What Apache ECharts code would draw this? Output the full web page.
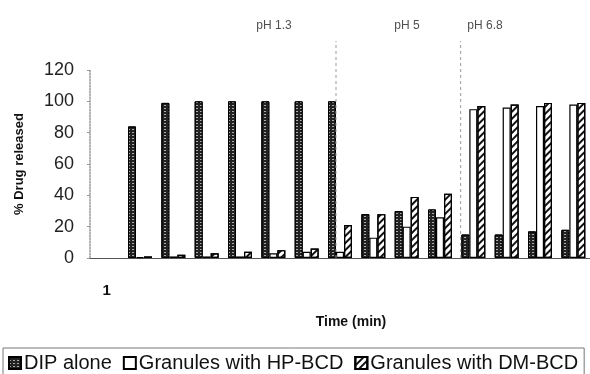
<!DOCTYPE html>
<html>
<head>
<meta charset="utf-8">
<script src="https://cdn.jsdelivr.net/npm/echarts@6/dist/echarts.min.js"></script>
<style>
html,body{margin:0;padding:0;background:#fff;}
#chart{width:590px;height:374px;}
</style>
</head>
<body>
<div id="chart"></div>
<script>
// ---- data ----
var categories = ['1','','','','','','','','','','','','','',''];
var dipAlone   = [null, 84, 99, 100, 100, 100, 100, 100, 28, 30, 31, 15, 15, 17, 18];
var hpBCD      = [null, 0.5, 1, 1, 1, 3, 4, 4, 13, 20, 26, 95, 96, 97, 98];
var dmBCD      = [null, 1, 2, 3, 4, 5, 6, 21, 28, 39, 41, 97, 98, 99, 99];
var seriesNames = ['DIP alone', 'Granules with HP-BCD', 'Granules with DM-BCD'];
var yTicks = [0, 20, 40, 60, 80, 100, 120];
var phLabels = ['pH 1.3', 'pH 5', 'pH 6.8'];
var phLabelPos = [5.52, 9.51, 11.85];   // in category units
var phBoundaries = [7.38, 11.12];       // in category units

var FONT = '"Liberation Sans", Arial, sans-serif';
var chart = echarts.init(document.getElementById('chart'), null, {renderer: 'canvas'});

var barBase = {
  type: 'bar', xAxisIndex: 0, yAxisIndex: 0,
  barWidth: 8, barGap: '0%', silent: true
};

var series = [
  Object.assign({}, barBase, {
    name: seriesNames[0], data: dipAlone,
    itemStyle: {
      color: '#222', borderColor: '#000', borderWidth: 1,
      decal: {symbol: 'rect', symbolSize: 1, color: 'rgba(230,230,230,0.7)',
              dashArrayX: [2, 2], dashArrayY: [1, 2]}
    }
  }),
  Object.assign({}, barBase, {
    name: seriesNames[1], data: hpBCD,
    itemStyle: {color: '#ffffff', borderColor: '#000', borderWidth: 1.2}
  }),
  Object.assign({}, barBase, {
    name: seriesNames[2], data: dmBCD,
    itemStyle: {
      color: '#ffffff', borderColor: '#000', borderWidth: 1.2,
      decal: {symbol: 'rect', symbolSize: 1, color: '#111',
              dashArrayX: [1, 0], dashArrayY: [1.5, 3], rotation: -Math.PI / 4}
    }
  })
];

phBoundaries.forEach(function (b) {
  series.push({
    type: 'line', xAxisIndex: 1, yAxisIndex: 1, silent: true,
    symbol: 'none', data: [[b, 0], [b, 1]],
    lineStyle: {color: '#999', width: 1, type: [3, 3]}
  });
});

series.push({
  type: 'scatter', xAxisIndex: 1, yAxisIndex: 1, silent: true,
  symbolSize: 0,
  data: phLabels.map(function (t, i) { return {value: [phLabelPos[i], 1], name: t}; }),
  label: {
    show: true, position: 'top', distance: 9,
    formatter: function (p) { return p.name; },
    fontSize: 12, color: '#222', fontFamily: FONT
  }
});

var option = {
  animation: false,
  backgroundColor: '#ffffff',
  grid: [
    {left: 90, right: 0, top: 70, bottom: 116},
    {left: 90, right: 0, top: 41, bottom: 116}
  ],
  legend: {
    data: seriesNames,
    left: 3, top: 348,
    icon: 'rect', itemWidth: 12, itemHeight: 12, itemGap: 11,
    padding: [5, 6, 6, 5],
    borderColor: '#777', borderWidth: 1,
    textStyle: {fontSize: 20, color: '#111', fontFamily: FONT, padding: [0, 0, 0, -2]},
    selectedMode: false
  },
  xAxis: [
    {
      type: 'category', gridIndex: 0, data: categories,
      axisLine: {lineStyle: {color: '#555', width: 1}},
      axisTick: {show: false},
      axisLabel: {interval: 0, fontSize: 15, fontWeight: 'bold', color: '#111',
                  margin: 25, fontFamily: FONT},
      name: 'Time (min)', nameLocation: 'middle', nameGap: 57,
      nameTextStyle: {fontSize: 14, fontWeight: 'bold', color: '#111',
                      fontFamily: FONT, padding: [0, 0, 0, 22]}
    },
    {type: 'value', gridIndex: 1, min: 0, max: categories.length, show: false}
  ],
  yAxis: [
    {
      type: 'value', gridIndex: 0, min: yTicks[0], max: yTicks[yTicks.length - 1],
      interval: yTicks[1] - yTicks[0],
      axisLine: {show: true, lineStyle: {color: '#999', type: 'dotted', width: 1.5}},
      axisTick: {show: true, length: 3, lineStyle: {color: '#999'}},
      splitLine: {show: false},
      axisLabel: {fontSize: 18, color: '#222', margin: 16, fontFamily: FONT},
      name: '% Drug released', nameLocation: 'middle', nameGap: 64,
      nameTextStyle: {fontSize: 13, fontWeight: 'bold', color: '#111', fontFamily: FONT}
    },
    {type: 'value', gridIndex: 1, min: 0, max: 1, show: false}
  ],
  series: series
};
chart.setOption(option);
</script>
</body>
</html>
